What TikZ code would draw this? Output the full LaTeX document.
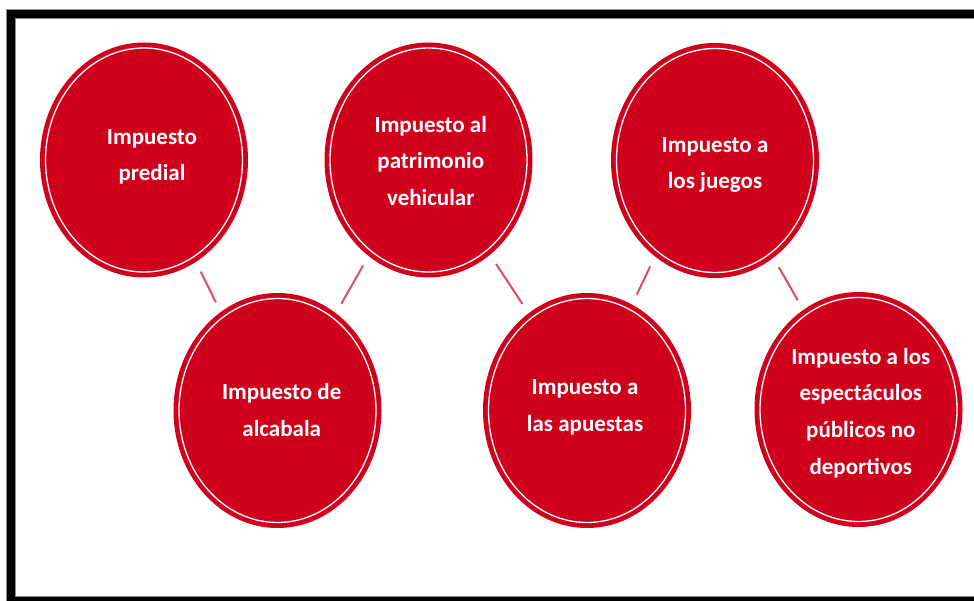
\documentclass[tikz,border=0pt]{standalone}
\usepackage{fontspec}
\setmainfont{Carlito}
\usetikzlibrary{shapes.geometric}
\definecolor{bubblered}{RGB}{208,0,28}
\definecolor{connred}{RGB}{216,78,100}
\begin{document}
\begin{tikzpicture}[x=1pt,y=-1pt,
  bubble/.style={ellipse, fill=bubblered, draw=none, inner sep=0pt, outer sep=0pt,
    minimum width=208pt, minimum height=235pt,
    path picture={\draw[white, line width=1.3pt] (path picture bounding box.center) ellipse [x radius=98.5pt, y radius=112pt];}},
  btext/.style={text=white, font=\fontsize{23}{36.7}\selectfont\bfseries, align=center, inner sep=0pt},
  conn/.style={draw=connred, line width=2pt, shorten <=11pt, shorten >=11pt},
  frameline/.style={line width=8pt}]
\useasboundingbox (0,0) rectangle (974,601);
\fill[white] (0,0) rectangle (974,601);
\draw[black!45, line width=9.5pt] (11,14) rectangle (1000,600.5);
\draw[black, frameline] (11,14) rectangle (1000,600.5);

\node[bubble] (c1) at (144,160) {};
\node[bubble] (c2) at (277.5,410.5) {};
\node[bubble] (c3) at (428.5,160) {};
\node[bubble] (c4) at (715,160.5) {};
\node[bubble] (c5) at (587,410.5) {};
\node[bubble] (c6) at (858.5,409.5) {};

\node[btext] (t1) at (152,157) {Impuesto\\predial};
\node[btext] (t2) at (281.7,410) {Impuesto de\\alcabala};
\node[btext] (t3) at (430.8,161) {Impuesto al\\patrimonio\\vehicular};
\node[btext] (t4) at (715,165) {Impuesto a\\los juegos};
\node[btext] (t5) at (585,407.5) {Impuesto a\\las apuestas};
\node[btext] (t6) at (860.8,413) {Impuesto a los\\espectáculos\\públicos no\\deportivos};

\draw[conn] (c1.297) -- (c2.120);
\draw[conn] (c3.238) -- (c2.59);
\draw[conn] (c3.303) -- (c5.121);
\draw[conn] (c4.238) -- (c5.67);
\draw[conn] (c4.301) -- (c6.119);
\end{tikzpicture}
\end{document}
